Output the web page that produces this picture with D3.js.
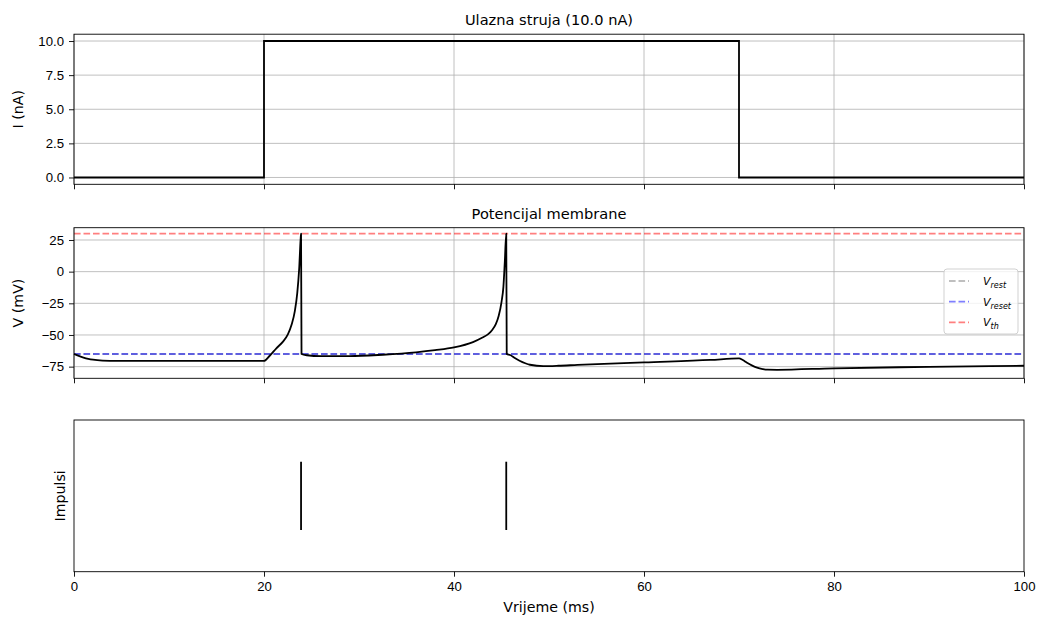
<!DOCTYPE html>
<html>
<head>
<meta charset="utf-8">
<script src="https://cdn.jsdelivr.net/npm/d3@7"></script>
<style>
  html, body { margin: 0; padding: 0; background: #fff; }
  svg { display: block; font-family: "DejaVu Sans", sans-serif; }
</style>
</head>
<body>
<svg id="chart" width="1038" height="617"></svg>
<script>
// Input current (nA) over time (ms)
const currentTime = [0, 20, 20, 70, 70, 100];
const currentValues = [0, 0, 10, 10, 0, 0];

// Membrane potential (mV)
const voltageTime = [
  0, 0.5, 1, 1.5, 2, 3, 4, 5, 10, 20,
  20.6, 21.3, 22.0, 22.5, 22.9, 23.25, 23.5, 23.7, 23.85, 23.9,
  23.95, 24.5, 26, 29, 32.5, 36, 38, 40, 42, 43, 43.6, 44, 44.4, 44.7, 45, 45.2, 45.35, 45.5,
  45.55, 45.9, 46.4, 46.9, 47.5, 48, 49.4, 51, 53, 60, 67, 70,
  70.4, 70.8, 71.4, 71.9, 72.5, 73, 74, 80, 90, 100
];
const voltageValues = [
  -65, -66.5, -67.8, -68.8, -69.5, -70.2, -70.4, -70.5, -70.5, -70.5,
  -66.4, -60.5, -55.2, -49.8, -42, -31, -17, 2, 25, 30,
  -65, -66, -66.7, -66.7, -65.6, -63.7, -62, -59.8, -55.6, -52, -49.3, -46.3, -41.5, -35, -24, -12, 8, 30,
  -65, -65.8, -68.2, -70.3, -72.3, -73.5, -74.6, -74.3, -73.6, -71.6, -69.7, -68.5,
  -69.8, -71.7, -74.2, -75.8, -76.9, -77.4, -77.5, -76.3, -75.2, -74.3
];

// Reference levels
const vRest = -65;
const vReset = -65;
const vTh = 30;

// Spike times (ms)
const spikeTimes = [23.9, 45.5];

// Tick values
const timeTicks = [0, 20, 40, 60, 80, 100];
const currentTicks = [0, 2.5, 5, 7.5, 10];
const voltageTicks = [-75, -50, -25, 0, 25];

const svg = d3.select("#chart");
const left = 74, right = 1024;
const panels = {
  top: [34.2, 184.3],
  mid: [227.7, 378.3],
  bot: [420, 571.7]
};
const gridColor = "#b0b0b0";
const tickFont = 13.2;
const labelFont = 14.2;

const x = d3.scaleLinear().domain([0, 100]).range([left, right]);
const yI = d3.scaleLinear().domain([-0.5, 10.5]).range([panels.top[1], panels.top[0]]);
const yV = d3.scaleLinear().domain([-84.2, 34.7]).range([panels.mid[1], panels.mid[0]]);
const yS = d3.scaleLinear().domain([0, 2]).range([panels.bot[1], panels.bot[0]]);

function drawGrid(g, yScale, yTicks, top, bottom) {
  g.selectAll(".vgrid").data(timeTicks).join("line")
    .attr("x1", d => x(d)).attr("x2", d => x(d))
    .attr("y1", top).attr("y2", bottom)
    .attr("stroke", gridColor).attr("stroke-width", 0.8);
  g.selectAll(".hgrid").data(yTicks).join("line")
    .attr("x1", left).attr("x2", right)
    .attr("y1", d => yScale(d)).attr("y2", d => yScale(d))
    .attr("stroke", gridColor).attr("stroke-width", 0.8);
}

function styleAxis(sel) {
  sel.select(".domain").remove();
  sel.selectAll(".tick line").attr("stroke", "#000").attr("stroke-width", 0.9);
  sel.selectAll(".tick text").attr("fill", "#000").style("font-size", tickFont + "px");
}

function drawFrame(g, top, bottom) {
  g.append("rect")
    .attr("x", left).attr("y", top)
    .attr("width", right - left).attr("height", bottom - top)
    .attr("fill", "none").attr("stroke", "#000").attr("stroke-width", 0.9);
}

function drawXAxis(g, bottom, withLabels) {
  const axis = d3.axisBottom(x).tickValues(timeTicks).tickSize(5).tickPadding(5)
    .tickFormat(withLabels ? d3.format("d") : () => "");
  g.append("g").attr("transform", `translate(0,${bottom})`).call(axis).call(styleAxis);
}

function drawYAxis(g, yScale, ticks, fmt) {
  const axis = d3.axisLeft(yScale).tickValues(ticks).tickSize(5).tickPadding(5).tickFormat(fmt);
  g.append("g").attr("transform", `translate(${left},0)`).call(axis).call(styleAxis);
}

function yLabel(text, xPos, top, bottom) {
  svg.append("text")
    .attr("transform", `translate(${xPos},${(top + bottom) / 2}) rotate(-90)`)
    .attr("text-anchor", "middle")
    .attr("dominant-baseline", "central")
    .style("font-size", labelFont + "px")
    .text(text);
}

function title(text, top) {
  svg.append("text")
    .attr("x", (left + right) / 2).attr("y", top - 9)
    .attr("text-anchor", "middle")
    .style("font-size", "14.6px")
    .text(text);
}

// --- Top panel: input current
const gTop = svg.append("g");
drawGrid(gTop, yI, currentTicks, panels.top[0], panels.top[1]);
gTop.append("path")
  .datum(d3.zip(currentTime, currentValues))
  .attr("fill", "none").attr("stroke", "#000").attr("stroke-width", 1.8)
  .attr("d", d3.line().x(d => x(d[0])).y(d => yI(d[1])));
drawFrame(gTop, panels.top[0], panels.top[1]);
drawXAxis(gTop, panels.top[1], false);
drawYAxis(gTop, yI, currentTicks, d3.format(".1f"));
yLabel("I (nA)", 18, panels.top[0], panels.top[1]);
title("Ulazna struja (10.0 nA)", panels.top[0]);

// --- Middle panel: membrane potential
const gMid = svg.append("g");
drawGrid(gMid, yV, voltageTicks, panels.mid[0], panels.mid[1]);

const refLines = [
  { key: "rest", value: vRest, color: "gray" },
  { key: "reset", value: vReset, color: "blue" },
  { key: "th", value: vTh, color: "red" }
];
gMid.selectAll(".ref").data(refLines).join("line")
  .attr("x1", left).attr("x2", right)
  .attr("y1", d => yV(d.value)).attr("y2", d => yV(d.value))
  .attr("stroke", d => d.color).attr("stroke-opacity", 0.5)
  .attr("stroke-width", 1.8).attr("stroke-dasharray", "6.6,2.9");

gMid.append("path")
  .datum(d3.zip(voltageTime, voltageValues))
  .attr("fill", "none").attr("stroke", "#000").attr("stroke-width", 1.8)
  .attr("stroke-linejoin", "round")
  .attr("d", d3.line().x(d => x(d[0])).y(d => yV(d[1])).curve(d3.curveMonotoneX));
drawFrame(gMid, panels.mid[0], panels.mid[1]);
drawXAxis(gMid, panels.mid[1], false);
drawYAxis(gMid, yV, voltageTicks, d3.format("d"));
yLabel("V (mV)", 18, panels.mid[0], panels.mid[1]);
title("Potencijal membrane", panels.mid[0]);

// Legend
const legend = svg.append("g").attr("transform", "translate(944,269)");
legend.append("rect")
  .attr("width", 74).attr("height", 65).attr("rx", 3)
  .attr("fill", "#fff").attr("fill-opacity", 0.8)
  .attr("stroke", "#cccccc").attr("stroke-width", 0.9);
const rows = legend.selectAll(".row").data(refLines).join("g")
  .attr("transform", (d, i) => `translate(0,${12 + i * 20.7})`);
rows.append("line")
  .attr("x1", 5).attr("x2", 25)
  .attr("stroke", d => d.color).attr("stroke-opacity", 0.5)
  .attr("stroke-width", 1.8).attr("stroke-dasharray", "6.6,2.9");
const lt = rows.append("text")
  .attr("x", 39).attr("y", 4)
  .style("font-size", "11px").style("font-style", "italic");
lt.append("tspan").text("V");
lt.append("tspan").attr("dy", 3).style("font-size", "8px").text(d => d.key);

// --- Bottom panel: spikes
const gBot = svg.append("g");
gBot.selectAll(".spike").data(spikeTimes).join("line")
  .attr("x1", d => x(d)).attr("x2", d => x(d))
  .attr("y1", yS(0.55)).attr("y2", yS(1.45))
  .attr("stroke", "#000").attr("stroke-width", 1.8);
drawFrame(gBot, panels.bot[0], panels.bot[1]);
drawXAxis(gBot, panels.bot[1], true);
yLabel("Impulsi", 60, panels.bot[0], panels.bot[1]);

svg.append("text")
  .attr("x", (left + right) / 2).attr("y", 612)
  .attr("text-anchor", "middle")
  .style("font-size", labelFont + "px")
  .text("Vrijeme (ms)");
</script>
</body>
</html>
